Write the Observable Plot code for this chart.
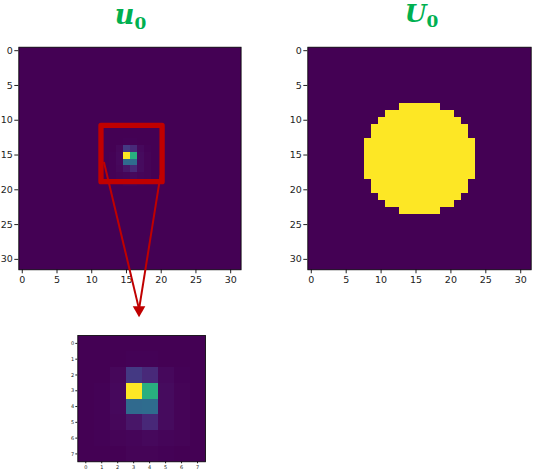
<!DOCTYPE html>
<html>
<head>
<meta charset="utf-8">
<script src="https://cdn.jsdelivr.net/npm/d3@7"></script>
<script src="https://cdn.jsdelivr.net/npm/@observablehq/plot@0.6"></script>
<style>
  html, body { margin: 0; padding: 0; background: #fff; }
  #root { position: relative; width: 533px; height: 473px; overflow: hidden; }
  .panel { position: absolute; }
  .title { position: absolute; text-align: center; color: #00b050; font-family: "DejaVu Serif", serif;
           font-weight: bold; font-style: italic; line-height: 1.2; white-space: nowrap; }
  .title sub { font-style: normal; font-size: 17px; vertical-align: -5px; }
</style>
</head>
<body>
<div id="root">
  <div class="title" id="t1" style="left:0px; width:261px; top:-1px; font-size:27px;">u<sub>0</sub></div>
  <div class="title" id="t2" style="left:290px; width:263px; top:-1px; font-size:25px;">U<sub>0</sub></div>
  <div class="panel" id="left" style="left:0px; top:0px;"></div>
  <div class="panel" id="right" style="left:290px; top:0px;"></div>
  <div class="panel" id="inset" style="left:60px; top:320px;"></div>
</div>
<script>
// ---------- data ----------
const gridSize = 32;
const axisTicks = [0, 5, 10, 15, 20, 25, 30];
const insetTicks = [0, 1, 2, 3, 4, 5, 6, 7];

// u0: nonzero window (rows 12..19, cols 12..19), zero elsewhere
const windowRow0 = 12;
const windowCol0 = 12;
const u0Window = [
  [0.000, 0.000, 0.000, 0.000, 0.000, 0.000, 0.000, 0.000],
  [0.000, 0.000, 0.002, 0.004, 0.004, 0.002, 0.000, 0.000],
  [0.000, 0.002, 0.018, 0.165, 0.115, 0.022, 0.004, 0.000],
  [0.000, 0.004, 0.022, 1.000, 0.630, 0.030, 0.008, 0.000],
  [0.000, 0.004, 0.022, 0.340, 0.350, 0.030, 0.008, 0.000],
  [0.000, 0.004, 0.018, 0.055, 0.110, 0.030, 0.008, 0.000],
  [0.000, 0.006, 0.009, 0.015, 0.022, 0.015, 0.008, 0.000],
  [0.000, 0.000, 0.002, 0.008, 0.008, 0.004, 0.002, 0.000]
];

// U0: disc, given as column span per row
const discRows     = [8, 9, 10, 11, 12, 13, 14, 15, 16, 17, 18, 19, 20, 21, 22, 23];
const discColStart = [13, 11, 10, 9, 9, 8, 8, 8, 8, 8, 8, 9, 9, 10, 11, 13];
const discColEnd   = [18, 20, 21, 22, 22, 23, 23, 23, 23, 23, 23, 22, 22, 21, 20, 18];

// annotation (in u0 data coordinates)
const zoomBox = [{x1: 11.4, x2: 20.2, y1: 10.8, y2: 18.9}];
const arrowLines = [
  {x1: 11.75, y1: 16.0, x2: 16.75, y2: 36.9},
  {x1: 19.9, y1: 17.9, x2: 16.85, y2: 36.9}
];
const arrowHead = [{x: 16.81, y: 37.27}];

// ---------- build grids ----------
const u0 = new Array(gridSize * gridSize).fill(0);
u0Window.forEach((row, i) => row.forEach((v, j) => {
  u0[(windowRow0 + i) * gridSize + (windowCol0 + j)] = v;
}));
const U0 = new Array(gridSize * gridSize).fill(0);
discRows.forEach((r, k) => {
  for (let c = discColStart[k]; c <= discColEnd[k]; c++) U0[r * gridSize + c] = 1;
});
const insetFlat = u0Window.flat();

const colorOpt = {type: "linear", scheme: "viridis", domain: [0, 1]};
const red = "#c00000";

function heat(values, n, opts) {
  const ext = [-0.5, n - 0.5];
  return Plot.plot({
    width: opts.width, height: opts.height,
    marginLeft: opts.ml, marginRight: opts.mr, marginTop: opts.mt, marginBottom: opts.mb,
    style: {background: "transparent", fontFamily: "DejaVu Sans", fontSize: opts.fs, color: "#222", overflow: "visible"},
    x: {domain: ext, ticks: opts.ticks, tickSize: opts.ts, tickPadding: opts.tp, label: null, tickFormat: d3.format("d")},
    y: {domain: ext, reverse: true, ticks: opts.ticks, tickSize: opts.ts, tickPadding: opts.tp, label: null, tickFormat: d3.format("d")},
    color: colorOpt,
    marks: [
      Plot.raster(values, {width: n, height: n, x1: ext[0], x2: ext[1], y1: ext[0], y2: ext[1],
        fill: d => d, imageRendering: "pixelated"}),
      Plot.frame({stroke: "#000", strokeWidth: 0.8}),
      ...(opts.extra || [])
    ]
  });
}

document.getElementById("left").append(heat(u0, gridSize, {
  width: 253, height: 473, ml: 18.3, mr: 12.4, mt: 46.7, mb: 203.7,
  fs: "9.5px", ticks: axisTicks, ts: 4, tp: 2,
  extra: [
    Plot.rect(zoomBox, {x1: "x1", x2: "x2", y1: "y1", y2: "y2", fill: "none", stroke: red,
      strokeWidth: 5.3, strokeLinejoin: "round", clip: false}),
    Plot.link(arrowLines, {x1: "x1", y1: "y1", x2: "x2", y2: "y2", stroke: red, strokeWidth: 2, clip: false}),
    Plot.dot(arrowHead, {x: "x", y: "y", symbol: "triangle2", rotate: 180, r: 6, fill: red, stroke: "none", clip: false})
  ]
}));

document.getElementById("right").append(heat(U0, gridSize, {
  width: 243, height: 290, ml: 17.3, mr: 2.3, mt: 46.7, mb: 20.7,
  fs: "9.5px", ticks: axisTicks, ts: 4, tp: 2
}));

document.getElementById("inset").append(heat(insetFlat, 8, {
  width: 160, height: 153, ml: 17.3, mr: 15, mt: 15, mb: 11.7,
  fs: "5px", ticks: insetTicks, ts: 2, tp: 1.5
}));
</script>
</body>
</html>
